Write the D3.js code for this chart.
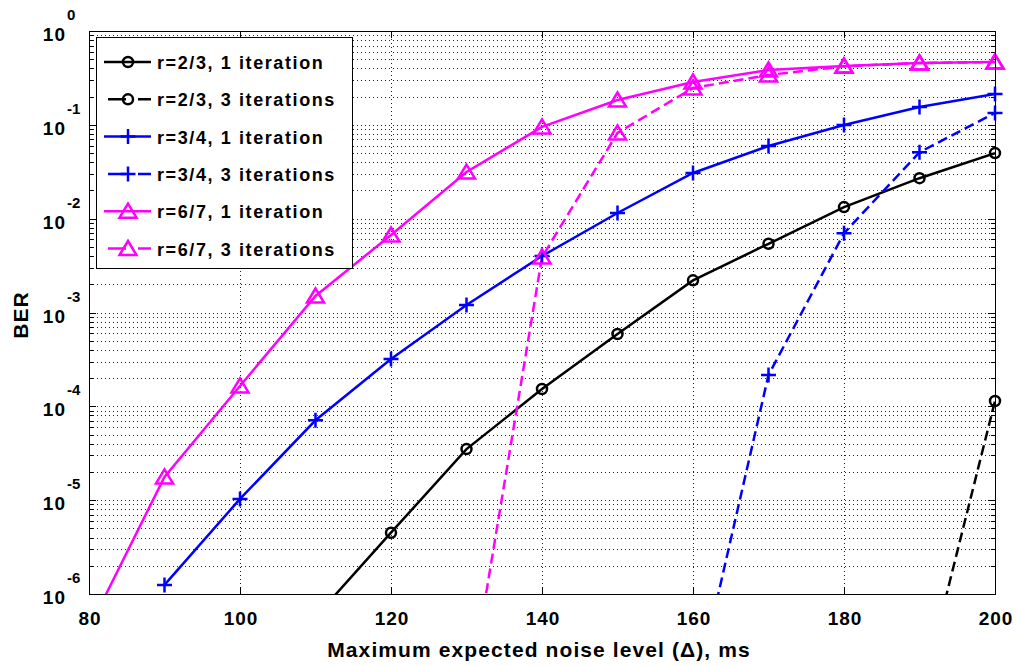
<!DOCTYPE html>
<html>
<head>
<meta charset="utf-8">
<script src="https://cdn.jsdelivr.net/npm/d3@7"></script>
<style>
  body { margin: 0; background: #fff; }
  text { font-family: "Liberation Sans", Arial, Helvetica, sans-serif; font-weight: bold; }
</style>
</head>
<body>
<div id="my_dataviz"></div>
<script>
// noise level (ms) and BER values (null = no point)
var noise = [80, 90, 100, 110, 120, 130, 140, 150, 160, 170, 180, 190, 200];
var ber_r23_it1 = [null, null, null, 5.7e-7, 4.5e-6, 3.5e-5, 1.53e-4, 5.9e-4, 2.2e-3, 5.4e-3, 1.33e-2, 2.7e-2, 5.0e-2];
var ber_r23_it3 = [null, null, null, null, null, null, null, null, null, null, null, 7e-8, 1.14e-4];
var ber_r34_it1 = [null, 1.25e-6, 1.03e-5, 7.1e-5, 3.2e-4, 1.2e-3, 4.0e-3, 1.15e-2, 3.07e-2, 5.95e-2, 0.0995, 0.155, 0.213];
var ber_r34_it3 = [null, null, null, null, null, null, null, null, 6.7e-8, 2.16e-4, 7.0e-3, 5.1e-2, 0.134];
var ber_r67_it1 = [4.3e-7, 1.77e-5, 1.65e-4, 1.5e-3, 6.7e-3, 3.14e-2, 9.5e-2, 0.184, 0.286, 0.384, 0.424, 0.456, 0.467];
var ber_r67_it3 = [null, null, null, null, null, 5.6e-8, 3.9e-3, 8.2e-2, 0.247, 0.34, 0.42, 0.456, 0.467];

var legendLabels = ["r=2/3, 1 iteration", "r=2/3, 3 iterations", "r=3/4, 1 iteration",
                    "r=3/4, 3 iterations", "r=6/7, 1 iteration", "r=6/7, 3 iterations"];
var xTicks = [80, 100, 120, 140, 160, 180, 200];
var yExps = [0, -1, -2, -3, -4, -5, -6];

function draw_ber() {
    var width = 1017, height = 666;
    var left = 89, right = 995, top = 31, bottom = 594;

    var svg = d3.select("#my_dataviz").append("svg")
        .attr("width", width)
        .attr("height", height)
        .style("background-color", "white");

    var x = d3.scaleLinear().domain([80, 200]).range([left, right]);
    var y = d3.scaleLog().domain([1e-6, 1]).range([bottom, top]);

    var series = [
        { vals: ber_r23_it1, color: "#000000", dashed: false, marker: "o" },
        { vals: ber_r23_it3, color: "#000000", dashed: true,  marker: "o" },
        { vals: ber_r34_it1, color: "#0000ff", dashed: false, marker: "+" },
        { vals: ber_r34_it3, color: "#0000ff", dashed: true,  marker: "+" },
        { vals: ber_r67_it1, color: "#ff00ff", dashed: false, marker: "^" },
        { vals: ber_r67_it3, color: "#ff00ff", dashed: true,  marker: "^" }
    ];

    // grid (dotted, matlab style)
    var grid = svg.append("g").attr("stroke", "#222").attr("stroke-width", 1)
        .attr("stroke-dasharray", "1,3").attr("shape-rendering", "crispEdges");
    var minorVals = [];
    for (var e = -6; e < 0; e++) {
        for (var m = 1; m <= 9; m++) {
            if (e === -6 && m === 1) continue;
            minorVals.push(m * Math.pow(10, e));
        }
    }
    grid.selectAll(".gy").data(minorVals).enter().append("line")
        .attr("x1", left).attr("x2", right)
        .attr("y1", function(d) { return Math.round(y(d)) + 0.5; })
        .attr("y2", function(d) { return Math.round(y(d)) + 0.5; });
    grid.selectAll(".gx").data(xTicks.slice(1, -1)).enter().append("line")
        .attr("y1", top).attr("y2", bottom)
        .attr("x1", function(d) { return Math.round(x(d)) + 0.5; })
        .attr("x2", function(d) { return Math.round(x(d)) + 0.5; });

    // ticks inside, on all four sides
    var ticks = svg.append("g").attr("stroke", "#000").attr("stroke-width", 1)
        .attr("shape-rendering", "crispEdges");
    xTicks.forEach(function(t) {
        var px = Math.round(x(t)) + 0.5;
        ticks.append("line").attr("x1", px).attr("x2", px).attr("y1", bottom).attr("y2", bottom - 7);
        ticks.append("line").attr("x1", px).attr("x2", px).attr("y1", top).attr("y2", top + 7);
    });
    minorVals.forEach(function(v) {
        var py = Math.round(y(v)) + 0.5;
        var major = Math.abs(Math.log10(v) - Math.round(Math.log10(v))) < 1e-9;
        var len = major ? 7 : 4;
        ticks.append("line").attr("x1", left).attr("x2", left + len).attr("y1", py).attr("y2", py);
        ticks.append("line").attr("x1", right).attr("x2", right - len).attr("y1", py).attr("y2", py);
    });

    // clipped lines
    svg.append("clipPath").attr("id", "plotclip").append("rect")
        .attr("x", left).attr("y", top).attr("width", right - left).attr("height", bottom - top);

    var line = d3.line()
        .defined(function(d) { return d[1] != null; })
        .x(function(d) { return x(d[0]); })
        .y(function(d) { return y(d[1]); });

    var linesG = svg.append("g").attr("clip-path", "url(#plotclip)");
    series.forEach(function(s) {
        var pts = noise.map(function(n, i) { return [n, s.vals[i]]; });
        linesG.append("path")
            .datum(pts)
            .attr("d", line)
            .attr("fill", "none")
            .attr("stroke", s.color)
            .attr("stroke-width", 2.5)
            .attr("stroke-dasharray", s.dashed ? "10,5" : null);
    });

    function markerPath(type) {
        if (type === "+") return "M-7.5,0H7.5M0,-7.5V7.5";
        if (type === "^") return "M0,-7.5L8.5,6.5L-8.5,6.5Z";
        return d3.symbol().type(d3.symbolCircle).size(Math.PI * 25)();
    }

    series.forEach(function(s) {
        var pts = noise.map(function(n, i) { return [n, s.vals[i]]; })
            .filter(function(d) { return d[1] != null && d[1] >= 1e-6; });
        svg.append("g").selectAll("path").data(pts).enter().append("path")
            .attr("transform", function(d) { return "translate(" + x(d[0]) + "," + y(d[1]) + ")"; })
            .attr("d", markerPath(s.marker))
            .attr("fill", "none")
            .attr("stroke", s.color)
            .attr("stroke-width", 2.5);
    });

    // box
    svg.append("rect")
        .attr("x", left + 0.5).attr("y", top + 0.5)
        .attr("width", right - left).attr("height", bottom - top)
        .attr("fill", "none").attr("stroke", "#000").attr("stroke-width", 1)
        .attr("shape-rendering", "crispEdges");

    // x tick labels
    svg.selectAll(".xl").data(xTicks).enter().append("text")
        .attr("x", function(d) { return x(d) + 1; })
        .attr("y", 625)
        .attr("text-anchor", "middle")
        .style("font-size", "19px")
        .style("letter-spacing", "1px")
        .text(function(d) { return d; });

    // y tick labels, 10 with exponent
    yExps.forEach(function(e) {
        var py = y(Math.pow(10, e));
        svg.append("text")
            .attr("x", 66).attr("y", py + 10)
            .attr("text-anchor", "end")
            .style("font-size", "19px")
            .style("letter-spacing", "1px")
            .text("10");
        svg.append("text")
            .attr("x", 67).attr("y", py - 11)
            .style("font-size", "15px")
            .text(e === 0 ? "0" : "-" + Math.abs(e));
    });

    // axis titles
    svg.append("text")
        .attr("x", 539).attr("y", 657)
        .attr("text-anchor", "middle")
        .style("font-size", "21px")
        .style("letter-spacing", "1.1px")
        .text("Maximum expected noise level (\u0394), ms");
    svg.append("text")
        .attr("transform", "translate(28,315) rotate(-90)")
        .attr("text-anchor", "middle")
        .style("font-size", "21px")
        .style("letter-spacing", "1px")
        .text("BER");

    // legend
    var lg = svg.append("g");
    lg.append("rect")
        .attr("x", 96.5).attr("y", 37.5).attr("width", 256).attr("height", 231)
        .attr("fill", "white").attr("stroke", "#000").attr("stroke-width", 1)
        .attr("shape-rendering", "crispEdges");
    series.forEach(function(s, i) {
        var cy = 62 + i * 37.3;
        lg.append("line")
            .attr("x1", s.dashed ? 108 : 104).attr("x2", 151)
            .attr("y1", cy).attr("y2", cy)
            .attr("stroke", s.color).attr("stroke-width", 2.5)
            .attr("stroke-dasharray", s.dashed ? "18,12" : null);
        lg.append("path")
            .attr("transform", "translate(128," + cy + ")")
            .attr("d", markerPath(s.marker))
            .attr("fill", "none").attr("stroke", s.color).attr("stroke-width", 2.5);
        lg.append("text")
            .attr("x", 157).attr("y", cy + 7)
            .style("font-size", "18px")
            .style("letter-spacing", "1.6px")
            .text(legendLabels[i]);
    });
}

draw_ber();
</script>
</body>
</html>
